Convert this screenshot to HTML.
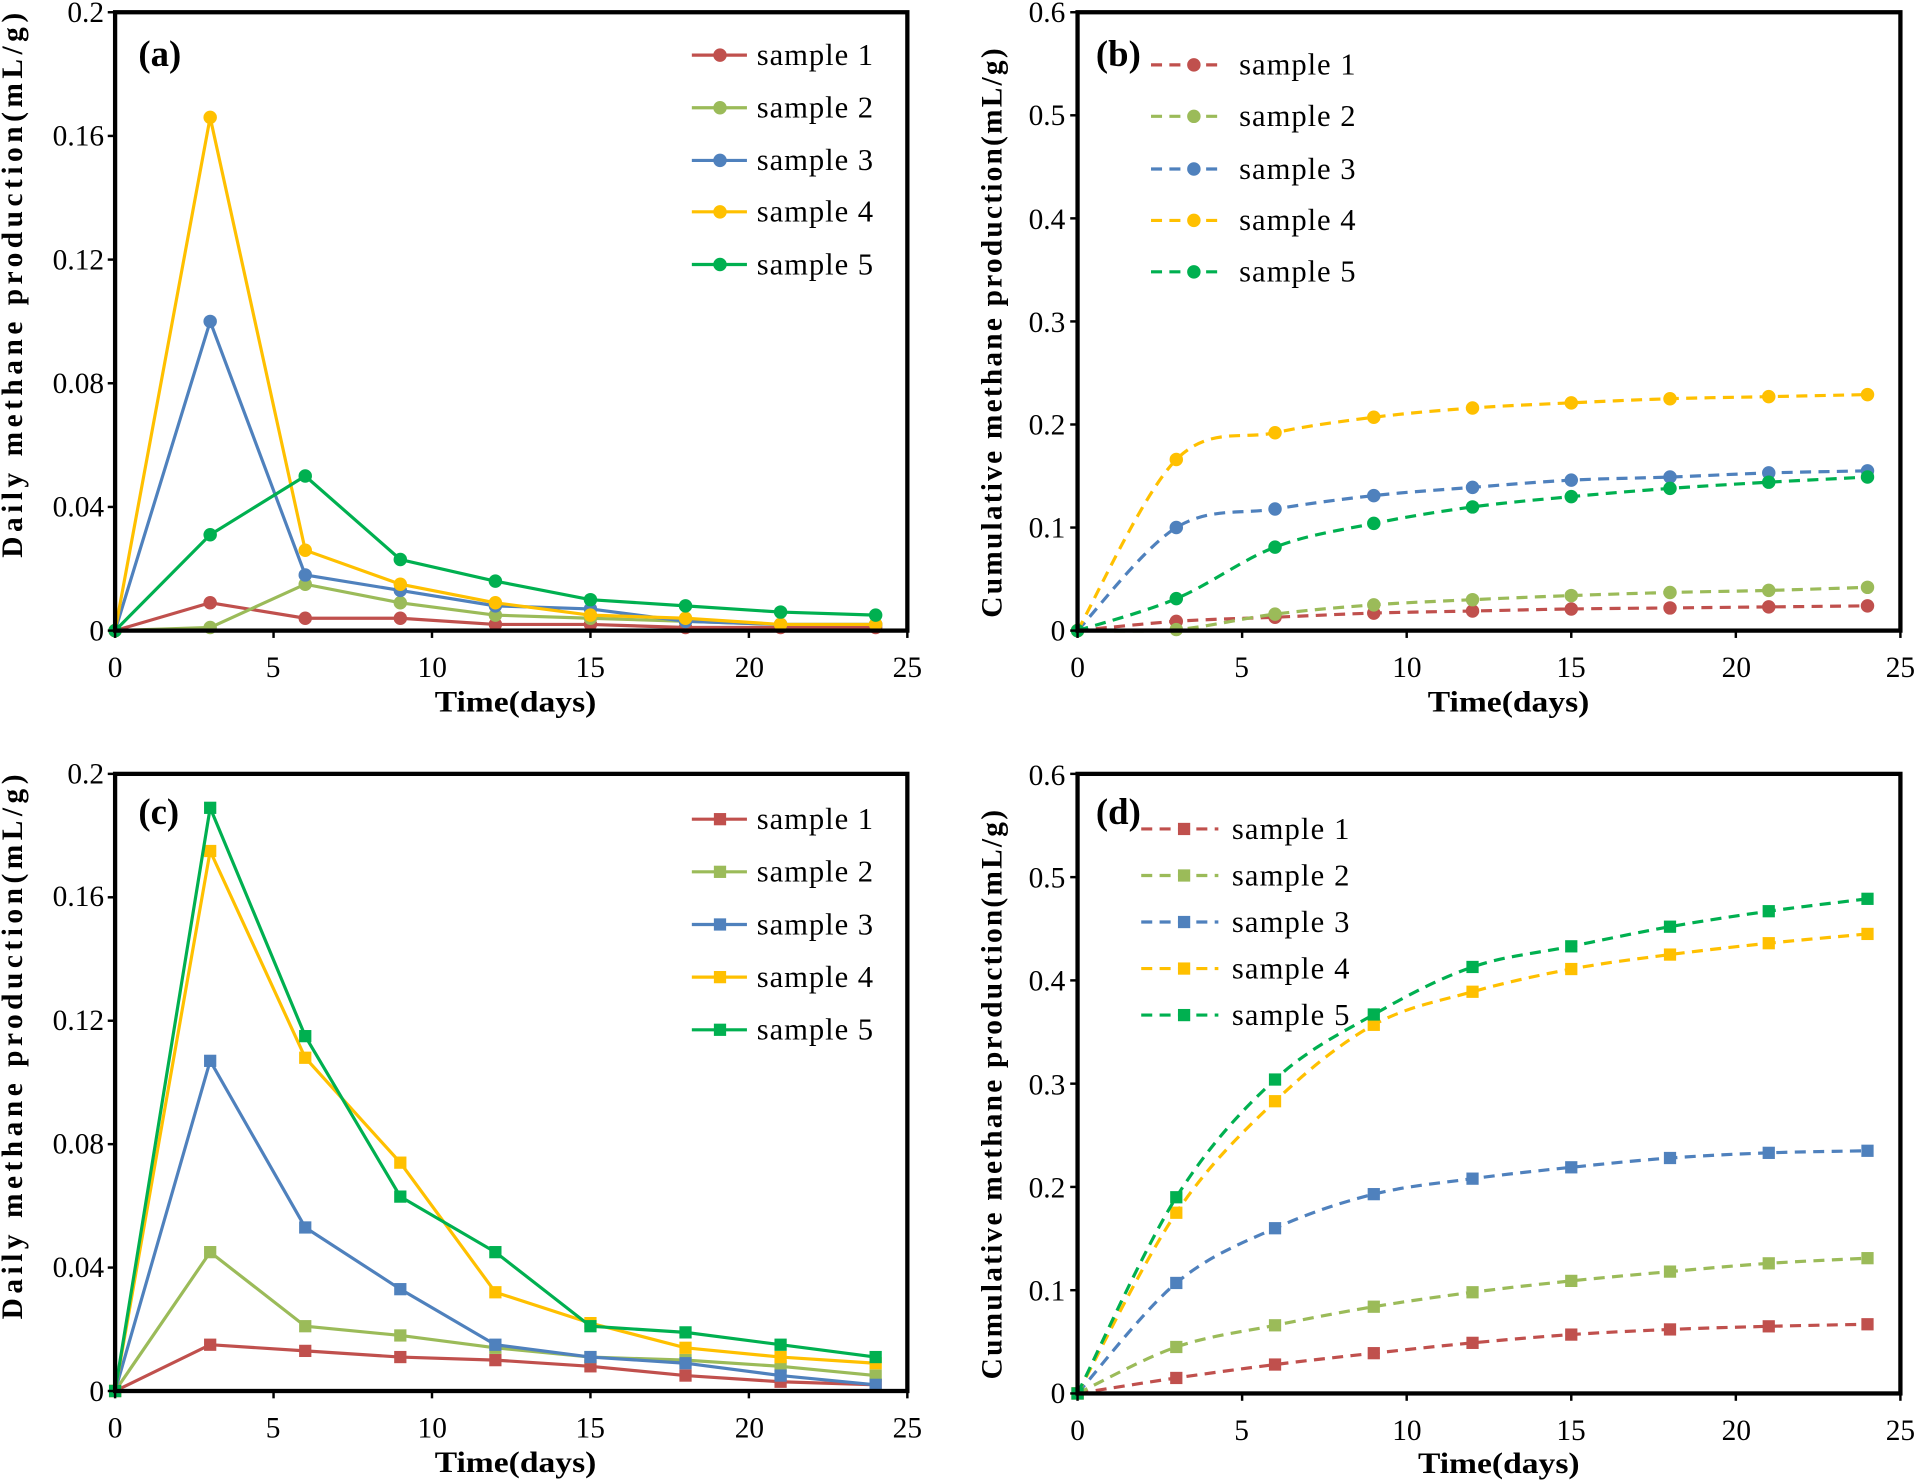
<!DOCTYPE html>
<html><head><meta charset="utf-8"><style>
html,body{margin:0;padding:0;background:#fff;}
svg{display:block;}
text{font-family:"Liberation Serif",serif;fill:#000;}
</style></head><body>
<svg id="s" width="1920" height="1481" viewBox="0 0 1568 1209.5" preserveAspectRatio="none" xmlns="http://www.w3.org/2000/svg">
<g id="g"></g>
<!-- axis titles -->
<g font-size="24" font-weight="bold" text-anchor="middle">
<text x="421" y="581" textLength="132" lengthAdjust="spacingAndGlyphs">Time(days)</text>
<text x="1232" y="581" textLength="132" lengthAdjust="spacingAndGlyphs">Time(days)</text>
<text x="421" y="1202" textLength="132" lengthAdjust="spacingAndGlyphs">Time(days)</text>
<text x="1224" y="1203" textLength="132" lengthAdjust="spacingAndGlyphs">Time(days)</text>
<text transform="translate(18,233) rotate(-90)" textLength="445" lengthAdjust="spacing">Daily methane production(mL/g)</text>
<text transform="translate(818,272) rotate(-90)" textLength="465" lengthAdjust="spacing">Cumulative methane production(mL/g)</text>
<text transform="translate(18,855) rotate(-90)" textLength="445" lengthAdjust="spacing">Daily methane production(mL/g)</text>
<text transform="translate(818,894) rotate(-90)" textLength="465" lengthAdjust="spacing">Cumulative methane production(mL/g)</text>
</g>
<!-- panel labels -->
<text x="113" y="54" font-size="30" font-weight="bold">(a)</text>
<text x="895" y="54" font-size="30" font-weight="bold">(b)</text>
<text x="113" y="673" font-size="30" font-weight="bold">(c)</text>
<text x="895" y="673" font-size="30" font-weight="bold">(d)</text>
<!-- tick labels -->
<g font-size="24" text-anchor="end">
<text x="85" y="523">0</text><text x="85" y="422">0.04</text><text x="85" y="321">0.08</text><text x="85" y="220">0.12</text><text x="85" y="119">0.16</text><text x="85" y="18">0.2</text>
<text x="85" y="1144">0</text><text x="85" y="1043">0.04</text><text x="85" y="942">0.08</text><text x="85" y="841">0.12</text><text x="85" y="740">0.16</text><text x="85" y="640">0.2</text>
<text x="870" y="523">0</text><text x="870" y="439">0.1</text><text x="870" y="355">0.2</text><text x="870" y="271">0.3</text><text x="870" y="187">0.4</text><text x="870" y="102">0.5</text><text x="870" y="18">0.6</text>
<text x="870" y="1146">0</text><text x="870" y="1062">0.1</text><text x="870" y="978">0.2</text><text x="870" y="894">0.3</text><text x="870" y="809">0.4</text><text x="870" y="725">0.5</text><text x="870" y="641">0.6</text>
</g>
<g font-size="24" text-anchor="middle">
<text x="94" y="553">0</text><text x="223" y="553">5</text><text x="353" y="553">10</text><text x="482" y="553">15</text><text x="612" y="553">20</text><text x="741" y="553">25</text>
<text x="880" y="553">0</text><text x="1014" y="553">5</text><text x="1149" y="553">10</text><text x="1283" y="553">15</text><text x="1418" y="553">20</text><text x="1552" y="553">25</text>
<text x="94" y="1174">0</text><text x="223" y="1174">5</text><text x="353" y="1174">10</text><text x="482" y="1174">15</text><text x="612" y="1174">20</text><text x="741" y="1174">25</text>
<text x="880" y="1176">0</text><text x="1014" y="1176">5</text><text x="1149" y="1176">10</text><text x="1283" y="1176">15</text><text x="1418" y="1176">20</text><text x="1552" y="1176">25</text>
</g>
<!-- legend texts -->
<g font-size="25">
<text x="618" y="53" textLength="95">sample 1</text><text x="618" y="96" textLength="95">sample 2</text><text x="618" y="139" textLength="95">sample 3</text><text x="618" y="181" textLength="95">sample 4</text><text x="618" y="224" textLength="95">sample 5</text>
<text x="1012" y="61" textLength="95">sample 1</text><text x="1012" y="103" textLength="95">sample 2</text><text x="1012" y="146" textLength="95">sample 3</text><text x="1012" y="188" textLength="95">sample 4</text><text x="1012" y="230" textLength="95">sample 5</text>
<text x="618" y="677" textLength="95">sample 1</text><text x="618" y="720" textLength="95">sample 2</text><text x="618" y="763" textLength="95">sample 3</text><text x="618" y="806" textLength="95">sample 4</text><text x="618" y="849" textLength="95">sample 5</text>
<text x="1006" y="685" textLength="96">sample 1</text><text x="1006" y="723" textLength="96">sample 2</text><text x="1006" y="761" textLength="96">sample 3</text><text x="1006" y="799" textLength="96">sample 4</text><text x="1006" y="837" textLength="96">sample 5</text>
</g>
</svg>
<script>
var C=["#c0504d","#9bbb59","#4f81bd","#ffc000","#00b050"];
var X=[0,3,6,9,12,15,18,21,24];
var P=[
{l:94,r:741,t:10,b:515,ym:0.2,dash:false,sq:false,lx:[565,610,588,618],ly:[45,88,131,173,216],d:[
[0,0.009,0.004,0.004,0.002,0.002,0.001,0.001,0.001],
[0,0.001,0.015,0.009,0.005,0.004,0.003,0.002,0.002],
[0,0.1,0.018,0.013,0.008,0.007,0.003,0.002,0.002],
[0,0.166,0.026,0.015,0.009,0.005,0.004,0.002,0.002],
[0,0.031,0.05,0.023,0.016,0.01,0.008,0.006,0.005]]},
{l:880,r:1552,t:10,b:515,ym:0.6,dash:true,sq:false,lx:[940,1000,975,1012],ly:[53,95,138,180,222],d:[
[0,0.009,0.013,0.017,0.019,0.021,0.022,0.023,0.024],
[0,0.001,0.016,0.025,0.03,0.034,0.037,0.039,0.042],
[0,0.1,0.118,0.131,0.139,0.146,0.149,0.153,0.155],
[0,0.166,0.192,0.207,0.216,0.221,0.225,0.227,0.229],
[0,0.031,0.081,0.104,0.12,0.13,0.138,0.144,0.149]]},
{l:94,r:741,t:632,b:1136,ym:0.2,dash:false,sq:true,lx:[565,610,588,618],ly:[669,712,755,798,841],d:[
[0,0.015,0.013,0.011,0.01,0.008,0.005,0.003,0.002],
[0,0.045,0.021,0.018,0.014,0.011,0.01,0.008,0.005],
[0,0.107,0.053,0.033,0.015,0.011,0.009,0.005,0.002],
[0,0.175,0.108,0.074,0.032,0.022,0.014,0.011,0.009],
[0,0.189,0.115,0.063,0.045,0.021,0.019,0.015,0.011]]},
{l:880,r:1552,t:632,b:1138,ym:0.6,dash:true,sq:true,lx:[932,995,967,1006],ly:[677,715,753,791,829],d:[
[0,0.015,0.028,0.039,0.049,0.057,0.062,0.065,0.067],
[0,0.045,0.066,0.084,0.098,0.109,0.118,0.126,0.131],
[0,0.107,0.16,0.193,0.208,0.219,0.228,0.233,0.235],
[0,0.175,0.283,0.357,0.389,0.411,0.425,0.436,0.445],
[0,0.19,0.304,0.367,0.413,0.433,0.452,0.467,0.479]]}];
var h="";
function mk(x,y,c,sq){return sq?'<rect x="'+(x-5)+'" y="'+(y-5)+'" width="10" height="10" fill="'+c+'"/>':'<circle cx="'+x+'" cy="'+y+'" r="5.5" fill="'+c+'"/>';}
P.forEach(function(p){
 var sx=function(v){return p.l+(p.r-p.l)*v/25}, sy=function(v){return p.b-(p.b-p.t)*v/p.ym};
 var da=p.dash?' stroke-dasharray="9,6"':'';
 p.d.forEach(function(s,i){
  var pts=X.map(function(x,k){return [sx(x),sy(s[k])]});
  var dstr="M"+pts[0][0]+","+pts[0][1];
  if(p.dash){
   for(var k=0;k<pts.length-1;k++){
    var p0=pts[Math.max(0,k-1)],p1=pts[k],p2=pts[k+1],p3=pts[Math.min(pts.length-1,k+2)];
    var c1=[p1[0]+(p2[0]-p0[0])/6,p1[1]+(p2[1]-p0[1])/6],c2=[p2[0]-(p3[0]-p1[0])/6,p2[1]-(p3[1]-p1[1])/6];
    dstr+=" C"+c1+" "+c2+" "+p2;
   }
  } else pts.slice(1).forEach(function(q){dstr+=" L"+q});
  h+='<path d="'+dstr+'" fill="none" stroke="'+C[i]+'" stroke-width="2.6"'+da+'/>';
  pts.forEach(function(q){h+=mk(q[0],q[1],C[i],p.sq)});
  var ly=p.ly[i];
  h+='<line x1="'+p.lx[0]+'" y1="'+ly+'" x2="'+p.lx[1]+'" y2="'+ly+'" stroke="'+C[i]+'" stroke-width="2.6"'+da+'/>'+mk(p.lx[2],ly,C[i],p.sq);
 });
 h+='<rect x="'+p.l+'" y="'+p.t+'" width="'+(p.r-p.l)+'" height="'+(p.b-p.t)+'" fill="none" stroke="#000" stroke-width="3.5"/>';
 for(var k=0;k<=5;k++){var x=sx(k*5);h+='<line x1="'+x+'" y1="'+p.b+'" x2="'+x+'" y2="'+(p.b+6)+'" stroke="#000" stroke-width="2"/>';}
 var n=p.ym==0.2?5:6;
 for(var k=0;k<=n;k++){var y=sy(p.ym*k/n);h+='<line x1="'+(p.l-6)+'" y1="'+y+'" x2="'+p.l+'" y2="'+y+'" stroke="#000" stroke-width="2"/>';}
});
document.getElementById("g").innerHTML=h;
</script>
</body></html>
